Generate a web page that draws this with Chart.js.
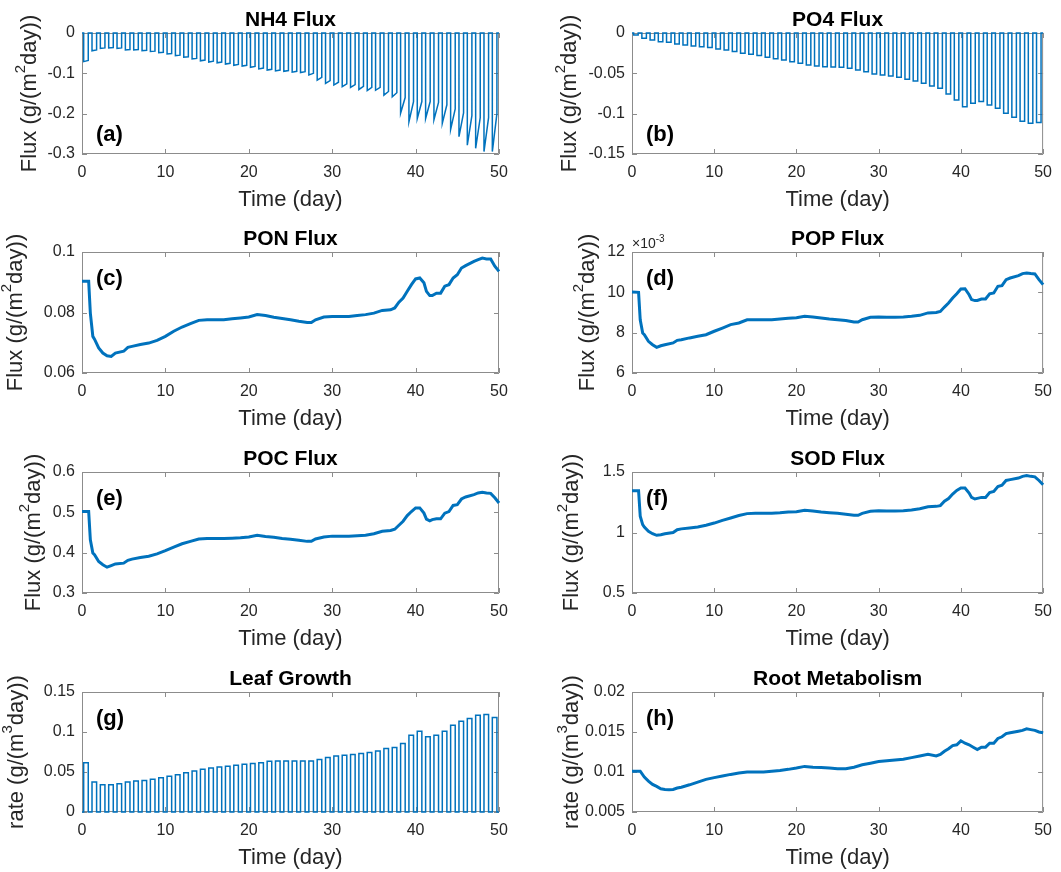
<!DOCTYPE html>
<html>
<head>
<meta charset="utf-8">
<script src="https://cdn.jsdelivr.net/npm/chart.js@4.4.0/dist/chart.umd.min.js"></script>
<style>
  html, body { margin: 0; padding: 0; background: #fff; }
  body { width: 1061px; height: 872px; position: relative; overflow: hidden; }
  canvas { position: absolute; }
</style>
</head>
<body>
<canvas id="pA" width="530" height="220" style="left:0;top:0"></canvas>
<canvas id="pB" width="531" height="220" style="left:530px;top:0"></canvas>
<canvas id="pC" width="530" height="220" style="left:0;top:220px"></canvas>
<canvas id="pD" width="531" height="220" style="left:530px;top:220px"></canvas>
<canvas id="pE" width="530" height="220" style="left:0;top:440px"></canvas>
<canvas id="pF" width="531" height="220" style="left:530px;top:440px"></canvas>
<canvas id="pG" width="530" height="212" style="left:0;top:660px"></canvas>
<canvas id="pH" width="531" height="212" style="left:530px;top:660px"></canvas>
<script>
// ---- data ----
// daily dips / pulses (one value per day 0..49)
const nh4Dip = [-0.071, -0.044, -0.038, -0.037, -0.038, -0.042, -0.042, -0.044, -0.046, -0.049,
  -0.052, -0.056, -0.060, -0.064, -0.069, -0.072, -0.074, -0.077, -0.080, -0.082,
  -0.085, -0.089, -0.092, -0.094, -0.095, -0.097, -0.098, -0.104, -0.117, -0.125,
  -0.129, -0.133, -0.135, -0.140, -0.143, -0.142, -0.154, -0.158, -0.199, -0.220,
  -0.212, -0.212, -0.215, -0.224, -0.239, -0.257, -0.278, -0.286, -0.294, -0.294];
const nh4DipEnd = [-0.068, -0.042, -0.037, -0.036, -0.037, -0.041, -0.041, -0.043, -0.045, -0.048,
  -0.051, -0.055, -0.059, -0.063, -0.067, -0.070, -0.072, -0.075, -0.078, -0.080,
  -0.083, -0.087, -0.090, -0.092, -0.093, -0.095, -0.096, -0.100, -0.110, -0.118,
  -0.122, -0.126, -0.128, -0.132, -0.135, -0.135, -0.145, -0.148, -0.160, -0.170,
  -0.170, -0.170, -0.172, -0.178, -0.188, -0.198, -0.205, -0.210, -0.210, -0.200];
const po4Dip = [-0.0025, -0.0066, -0.0087, -0.0107, -0.0116, -0.0136, -0.0149, -0.016, -0.0169, -0.018,
  -0.0198, -0.021, -0.023, -0.025, -0.0264, -0.028, -0.030, -0.032, -0.0335, -0.0355,
  -0.0376, -0.0397, -0.041, -0.0418, -0.042, -0.0425, -0.0438, -0.0459, -0.048, -0.0508,
  -0.052, -0.0533, -0.055, -0.0574, -0.0595, -0.0624, -0.0657, -0.0686, -0.0756, -0.083,
  -0.0914, -0.0872, -0.085, -0.0893, -0.0934, -0.0996, -0.1045, -0.1095, -0.112, -0.111];
const leafTop = [0.0617, 0.0374, 0.034, 0.034, 0.0353, 0.0374, 0.0387, 0.0395, 0.0408, 0.0429,
  0.0446, 0.0466, 0.0492, 0.0513, 0.0534, 0.055, 0.0563, 0.0571, 0.0584, 0.0596,
  0.0605, 0.0617, 0.0634, 0.0638, 0.0638, 0.0638, 0.0638, 0.0638, 0.0655, 0.068,
  0.0701, 0.0709, 0.0718, 0.073, 0.0743, 0.0764, 0.0793, 0.0806, 0.0856, 0.0958,
  0.101, 0.094, 0.0958, 0.101, 0.1084, 0.1135, 0.1168, 0.121, 0.1218, 0.118];

// smooth fluxes, sampled at these times (day)
const tFlux = [0, 0.8, 1, 1.3, 1.5, 2, 2.5, 3, 3.5, 4, 5, 5.5, 6, 7, 8, 9, 10, 11, 12, 13, 14,
  15, 16, 17, 18, 19, 20, 21, 22, 23, 24, 25, 26, 27, 27.5, 28, 29, 30, 31, 32, 33, 34, 35, 36,
  37, 37.5, 38, 38.5, 39, 39.5, 40, 40.5, 41, 41.3, 41.7, 42, 42.5, 43, 43.5, 44, 44.5, 45, 45.5,
  46, 47, 47.5, 48, 48.5, 49, 49.5, 50];
const ponFlux = [0.0903, 0.0903, 0.0798, 0.0721, 0.0712, 0.0683, 0.0666, 0.0657, 0.0655, 0.0666,
  0.0672, 0.0685, 0.0688, 0.0694, 0.0699, 0.0708, 0.0721, 0.0738, 0.0752, 0.0763, 0.0774,
  0.0776, 0.0776, 0.0776, 0.0779, 0.0782, 0.0785, 0.0793, 0.0790, 0.0784, 0.0780, 0.0776,
  0.0771, 0.0767, 0.0767, 0.0776, 0.0785, 0.0787, 0.0787, 0.0787, 0.0790, 0.0793, 0.0798,
  0.0807, 0.0809, 0.0815, 0.0834, 0.0848, 0.0870, 0.0892, 0.0911, 0.0914, 0.0898, 0.0870,
  0.0856, 0.0856, 0.0864, 0.0864, 0.0887, 0.0892, 0.0914, 0.0925, 0.0947, 0.0955, 0.0969,
  0.0975, 0.0980, 0.0977, 0.0977, 0.0953, 0.0936];
const popFlux = [10.02, 10.0, 8.64, 7.98, 7.9, 7.57, 7.4, 7.27, 7.35, 7.4, 7.49, 7.62, 7.65, 7.74,
  7.82, 7.9, 8.07, 8.23, 8.4, 8.48, 8.64, 8.64, 8.64, 8.64, 8.68, 8.71, 8.74, 8.81, 8.78, 8.73,
  8.68, 8.64, 8.6, 8.53, 8.53, 8.64, 8.76, 8.78, 8.76, 8.76, 8.78, 8.81, 8.86, 8.98, 9.0, 9.05,
  9.27, 9.47, 9.72, 9.93, 10.17, 10.18, 9.88, 9.64, 9.59, 9.6, 9.67, 9.67, 9.93, 9.97, 10.3,
  10.33, 10.63, 10.71, 10.83, 10.93, 10.96, 10.93, 10.91, 10.63, 10.38];
const pocFlux = [0.502, 0.502, 0.432, 0.399, 0.395, 0.378, 0.37, 0.364, 0.368, 0.372, 0.374,
  0.381, 0.384, 0.388, 0.391, 0.397, 0.405, 0.414, 0.422, 0.428, 0.434, 0.435, 0.435, 0.435,
  0.436, 0.437, 0.439, 0.443, 0.44, 0.438, 0.435, 0.433, 0.431, 0.428, 0.428, 0.434, 0.439,
  0.441, 0.441, 0.441, 0.442, 0.443, 0.447, 0.453, 0.455, 0.458, 0.468, 0.478, 0.492, 0.502,
  0.511, 0.511, 0.498, 0.483, 0.479, 0.482, 0.484, 0.484, 0.498, 0.502, 0.517, 0.519, 0.533,
  0.538, 0.544, 0.548, 0.55, 0.548, 0.547, 0.536, 0.523];
const sodFlux = [1.346, 1.346, 1.134, 1.065, 1.045, 1.01, 0.99, 0.977, 0.982, 0.99, 1.0, 1.023,
  1.03, 1.037, 1.045, 1.06, 1.078, 1.1, 1.12, 1.14, 1.156, 1.16, 1.16, 1.16, 1.163, 1.17, 1.172,
  1.183, 1.178, 1.17, 1.164, 1.159, 1.15, 1.142, 1.142, 1.158, 1.175, 1.18, 1.178, 1.178, 1.18,
  1.186, 1.197, 1.213, 1.216, 1.222, 1.258, 1.28, 1.318, 1.348, 1.368, 1.368, 1.326, 1.29,
  1.277, 1.282, 1.29, 1.29, 1.33, 1.34, 1.38, 1.39, 1.43, 1.437, 1.45, 1.464, 1.47, 1.464,
  1.46, 1.43, 1.395];

const tRoot = [0, 1, 1.5, 2, 2.5, 3, 3.5, 4, 4.5, 5, 5.5, 6, 7, 8, 9, 10, 11, 12, 13, 14, 15, 16,
  17, 18, 19, 20, 21, 22, 23, 24, 25, 26, 27, 28, 29, 30, 31, 32, 33, 34, 35, 36, 37, 37.5, 38,
  38.5, 39, 39.5, 40, 40.5, 41, 41.5, 42, 42.5, 43, 43.5, 44, 44.5, 45, 45.5, 46, 47, 47.5, 48,
  48.5, 49, 49.5, 50];
const rootRate = [0.0101, 0.0101, 0.00937, 0.00887, 0.00845, 0.0082, 0.0079, 0.00782, 0.00778,
  0.00782, 0.008, 0.0081, 0.0084, 0.00874, 0.00908, 0.0093, 0.0095, 0.0097, 0.00987, 0.01, 0.01,
  0.01, 0.0101, 0.0102, 0.01033, 0.0105, 0.0107, 0.0106, 0.01055, 0.0105, 0.0104, 0.0104,
  0.0106, 0.0109, 0.0111, 0.0113, 0.0114, 0.0115, 0.0116, 0.0118, 0.012, 0.0122, 0.012, 0.0122,
  0.0126, 0.0129, 0.0133, 0.0134, 0.0139, 0.0136, 0.0134, 0.0131, 0.0128, 0.0131, 0.0131,
  0.0136, 0.0136, 0.0142, 0.0144, 0.0148, 0.0149, 0.0151, 0.0152, 0.0154, 0.0153, 0.0152,
  0.015, 0.0149];

const xTicks = [0, 10, 20, 30, 40, 50];

// ---- styling ----
const FONT = "'Liberation Sans', Arial, sans-serif";
const LINE = '#0072BD';
const AXIS = '#8c8c8c';
const TEXT = '#262626';
const DAY_ON = 0.2, DAY_OFF = 0.75; // part of each day the pulse is on

function pairs(xs, ys) {
  return xs.map((x, i) => ({ x: x, y: ys[i] }));
}

// one pulse per day: flat at 0, jump to value, hold, back to 0
function daily(vals, ends) {
  const pts = [{ x: 0, y: 0 }];
  vals.forEach((v, d) => {
    const e = ends ? ends[d] : v;
    pts.push({ x: d + DAY_ON, y: 0 }, { x: d + DAY_ON, y: v }, { x: d + DAY_OFF, y: e }, { x: d + DAY_OFF, y: 0 });
  });
  pts.push({ x: 50, y: 0 });
  return pts;
}

const fluxLabel = ['Flux (g/(m', '2', 'day))'];
const rateLabel = ['rate (g/(m', '3', 'day))'];

const panels = [
  { id: 'pA', col: 0, row: 0, title: 'NH4 Flux', tag: '(a)', tagAt: 'bottom', ylab: fluxLabel, ylabOff: 52,
    y: [-0.3, 0, 0.1], data: daily(nh4Dip, nh4DipEnd), lw: 1.5 },
  { id: 'pB', col: 1, row: 0, title: 'PO4 Flux', tag: '(b)', tagAt: 'bottom', ylab: fluxLabel, ylabOff: 62,
    y: [-0.15, 0, 0.05], data: daily(po4Dip), lw: 1.5 },
  { id: 'pC', col: 0, row: 1, title: 'PON Flux', tag: '(c)', tagAt: 'top', ylab: fluxLabel, ylabOff: 66,
    y: [0.06, 0.1, 0.02], data: pairs(tFlux, ponFlux), lw: 3 },
  { id: 'pD', col: 1, row: 1, title: 'POP Flux', tag: '(d)', tagAt: 'top', ylab: fluxLabel, ylabOff: 44,
    y: [6, 12, 2], data: pairs(tFlux, popFlux), lw: 3, expo: '-3' },
  { id: 'pE', col: 0, row: 2, title: 'POC Flux', tag: '(e)', tagAt: 'top', ylab: fluxLabel, ylabOff: 48,
    y: [0.3, 0.6, 0.1], data: pairs(tFlux, pocFlux), lw: 3 },
  { id: 'pF', col: 1, row: 2, title: 'SOD Flux', tag: '(f)', tagAt: 'top', ylab: fluxLabel, ylabOff: 60,
    y: [0.5, 1.5, 0.5], data: pairs(tFlux, sodFlux), lw: 3 },
  { id: 'pG', col: 0, row: 3, title: 'Leaf Growth', tag: '(g)', tagAt: 'top', ylab: rateLabel, ylabOff: 65,
    y: [0, 0.15, 0.05], data: daily(leafTop), lw: 1.5 },
  { id: 'pH', col: 1, row: 3, title: 'Root Metabolism', tag: '(h)', tagAt: 'top', ylab: rateLabel, ylabOff: 60,
    y: [0.005, 0.02, 0.005], data: pairs(tRoot, rootRate), lw: 3 }
];

// plot box inside each canvas
const plotTop = [33, 32, 32, 32];
const plotBottom = [154, 153, 153, 152];
const plotLeft = [82, 102];
const plotRight = [499, 519];

// box, inward ticks and all the labels, drawn matlab-style
const matlabAxes = {
  id: 'matlabAxes',
  beforeDatasetsDraw(chart) {
    const { ctx, chartArea: a, scales } = chart;
    ctx.save();
    ctx.strokeStyle = AXIS;
    ctx.lineWidth = 1;
    ctx.beginPath();
    ctx.rect(a.left + 0.5, a.top + 0.5, a.right - a.left - 1, a.bottom - a.top - 1);
    scales.x.ticks.forEach(t => {
      const px = Math.round(scales.x.getPixelForValue(t.value)) + 0.5;
      ctx.moveTo(px, a.bottom); ctx.lineTo(px, a.bottom - 5);
      ctx.moveTo(px, a.top); ctx.lineTo(px, a.top + 5);
    });
    scales.y.ticks.forEach(t => {
      const py = Math.round(scales.y.getPixelForValue(t.value)) + 0.5;
      ctx.moveTo(a.left, py); ctx.lineTo(a.left + 5, py);
      ctx.moveTo(a.right, py); ctx.lineTo(a.right - 5, py);
    });
    ctx.stroke();
    ctx.restore();
  },
  afterDraw(chart) {
    const p = chart.config.options.plugins.matlabAxes;
    const { ctx, chartArea: a } = chart;
    const cx = (a.left + a.right) / 2, cy = (a.top + a.bottom) / 2;
    ctx.save();
    ctx.fillStyle = '#000';
    ctx.textAlign = 'center';
    ctx.textBaseline = 'middle';
    ctx.font = `bold 21px ${FONT}`;
    ctx.fillText(p.title, cx, a.top - 13);

    ctx.fillStyle = TEXT;
    ctx.font = `22px ${FONT}`;
    ctx.fillText('Time (day)', cx, a.bottom + 46);

    // y label with superscript
    ctx.save();
    ctx.translate(a.left - p.ylabOff, cy);
    ctx.rotate(-Math.PI / 2);
    ctx.textAlign = 'left';
    ctx.font = `22px ${FONT}`;
    const w1 = ctx.measureText(p.ylab[0]).width;
    const w3 = ctx.measureText(p.ylab[2]).width;
    ctx.font = `15px ${FONT}`;
    const w2 = ctx.measureText(p.ylab[1]).width;
    let x0 = -(w1 + w2 + w3) / 2;
    ctx.font = `22px ${FONT}`;
    ctx.fillText(p.ylab[0], x0, 0);
    ctx.font = `15px ${FONT}`;
    ctx.fillText(p.ylab[1], x0 + w1, -9);
    ctx.font = `22px ${FONT}`;
    ctx.fillText(p.ylab[2], x0 + w1 + w2, 0);
    ctx.restore();

    // panel tag
    ctx.fillStyle = '#000';
    ctx.textAlign = 'left';
    ctx.font = `bold 22px ${FONT}`;
    ctx.fillText(p.tag, a.left + 14, p.tagAt === 'bottom' ? a.bottom - 19 : a.top + 27);

    if (p.expo) {
      ctx.fillStyle = TEXT;
      ctx.font = `14px ${FONT}`;
      ctx.fillText('\u00d710', a.left, a.top - 8);
      const w = ctx.measureText('\u00d710').width;
      ctx.font = `10px ${FONT}`;
      ctx.fillText(p.expo, a.left + w, a.top - 13);
    }
    ctx.restore();
  }
};

function fmt(v) {
  const s = String(+v.toFixed(6));
  return s === '-0' ? '0' : s;
}

panels.forEach(p => {
  const canvas = document.getElementById(p.id);
  const W = canvas.width, H = canvas.height;
  new Chart(canvas.getContext('2d'), {
    type: 'line',
    data: {
      datasets: [{
        data: p.data,
        borderColor: LINE,
        borderWidth: p.lw,
        pointRadius: 0,
        tension: 0,
        fill: false,
        clip: 4
      }]
    },
    options: {
      responsive: false,
      animation: false,
      events: [],
      layout: { padding: { top: plotTop[p.row], right: W - plotRight[p.col], left: 0, bottom: 0 } },
      plugins: {
        legend: { display: false },
        tooltip: { enabled: false },
        matlabAxes: p
      },
      scales: {
        x: {
          type: 'linear', min: 0, max: 50,
          grid: { display: false, drawTicks: false },
          border: { display: false },
          afterBuildTicks: s => { s.ticks = xTicks.map(v => ({ value: v })); },
          afterFit: s => { s.height = H - plotBottom[p.row]; },
          ticks: { padding: 9, maxRotation: 0, autoSkip: false, color: TEXT, font: { family: FONT, size: 16 } }
        },
        y: {
          type: 'linear', min: p.y[0], max: p.y[1],
          grid: { display: false, drawTicks: false },
          border: { display: false },
          afterFit: s => { s.width = plotLeft[p.col]; },
          ticks: { stepSize: p.y[2], padding: 7, color: TEXT, font: { family: FONT, size: 16 }, callback: v => fmt(v) }
        }
      }
    },
    plugins: [matlabAxes]
  });
});
</script>
</body>
</html>
